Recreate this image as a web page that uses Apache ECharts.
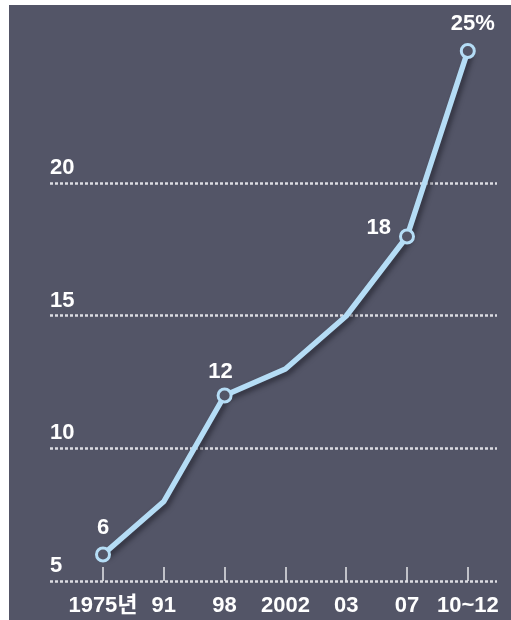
<!DOCTYPE html>
<html>
<head>
<meta charset="utf-8">
<script src="https://cdn.jsdelivr.net/npm/echarts@6/dist/echarts.min.js"></script>
<style>
  html, body { margin: 0; padding: 0; background: #ffffff; }
  #chart { position: absolute; left: 9px; top: 5px; width: 502px; height: 615px; }
</style>
</head>
<body>
<div id="chart"></div>
<script>
// Share of the figure by period (%)
const categories = ['1975년', '91', '98', '2002', '03', '07', '10~12'];
const values = [6, 8, 12, 13, 15, 18, 25];
// Points that carry a circle marker and a value label
const labelText = ['6', '', '12', '', '', '18', '25%'];
const yTicks = [5, 10, 15, 20];

const FONT = '"Liberation Sans", Arial, "Noto Sans CJK KR", sans-serif';
const BG = '#535567';
const LINE = '#b5ddf6';

const labelPos = ['top', null, 'top', null, null, 'left', 'top'];
const labelOffset = [[0, 0], null, [-4, 3], null, null, [0, -9], [5, 0]];

const seriesData = values.map((v, i) => {
  if (!labelText[i]) {
    return { value: v, symbol: 'none', label: { show: false } };
  }
  return {
    value: v,
    symbol: 'circle',
    label: {
      show: true,
      formatter: labelText[i],
      position: labelPos[i],
      offset: labelOffset[i],
      distance: 8
    }
  };
});

const chart = echarts.init(document.getElementById('chart'));
chart.setOption({
  backgroundColor: BG,
  animation: false,
  grid: [
    // plotting area for the line (5 .. 24 on the value scale)
    { left: 63.6, right: 12.8, top: 72.5, bottom: 39 },
    // wider area carrying the dotted reference lines (5 .. 20) and their labels
    { left: 41, right: 14, top: 178, bottom: 39 }
  ],
  xAxis: [
    {
      gridIndex: 0,
      type: 'category',
      data: categories,
      boundaryGap: true,
      axisLine: { show: false },
      axisTick: {
        show: true,
        alignWithLabel: true,
        inside: true,
        length: 14,
        lineStyle: { color: '#e6e6ea', width: 1.5 }
      },
      axisLabel: {
        interval: 0,
        color: '#ffffff',
        fontFamily: FONT,
        fontWeight: 'bold',
        fontSize: 22,
        margin: 14
      },
      splitLine: { show: false }
    },
    {
      gridIndex: 1,
      type: 'value',
      min: 0,
      max: 1,
      show: false
    }
  ],
  yAxis: [
    {
      gridIndex: 0,
      type: 'value',
      min: 5,
      max: 24,
      show: false
    },
    {
      gridIndex: 1,
      type: 'value',
      min: 5,
      max: 20,
      interval: 5,
      axisLine: { show: false },
      axisTick: { show: false },
      axisLabel: {
        inside: true,
        margin: 0,
        align: 'left',
        verticalAlign: 'bottom',
        padding: [0, 0, 4, 0],
        color: '#ffffff',
        fontFamily: FONT,
        fontWeight: 'bold',
        fontSize: 22,
        formatter: v => (yTicks.indexOf(v) >= 0 ? String(v) : '')
      },
      splitLine: {
        show: true,
        lineStyle: { color: '#dcdce2', width: 2.5, type: [3, 2] }
      }
    }
  ],
  series: [
    {
      type: 'line',
      xAxisIndex: 0,
      yAxisIndex: 0,
      data: seriesData,
      clip: false,
      symbolSize: 13,
      lineStyle: {
        color: LINE,
        width: 5.5,
        shadowColor: 'rgba(20,20,30,0.55)',
        shadowBlur: 5,
        shadowOffsetX: 3,
        shadowOffsetY: 3
      },
      itemStyle: {
        color: BG,
        borderColor: LINE,
        borderWidth: 3
      },
      label: {
        color: '#ffffff',
        fontFamily: FONT,
        fontWeight: 'bold',
        fontSize: 22
      },
      z: 5
    }
  ]
});
</script>
</body>
</html>
